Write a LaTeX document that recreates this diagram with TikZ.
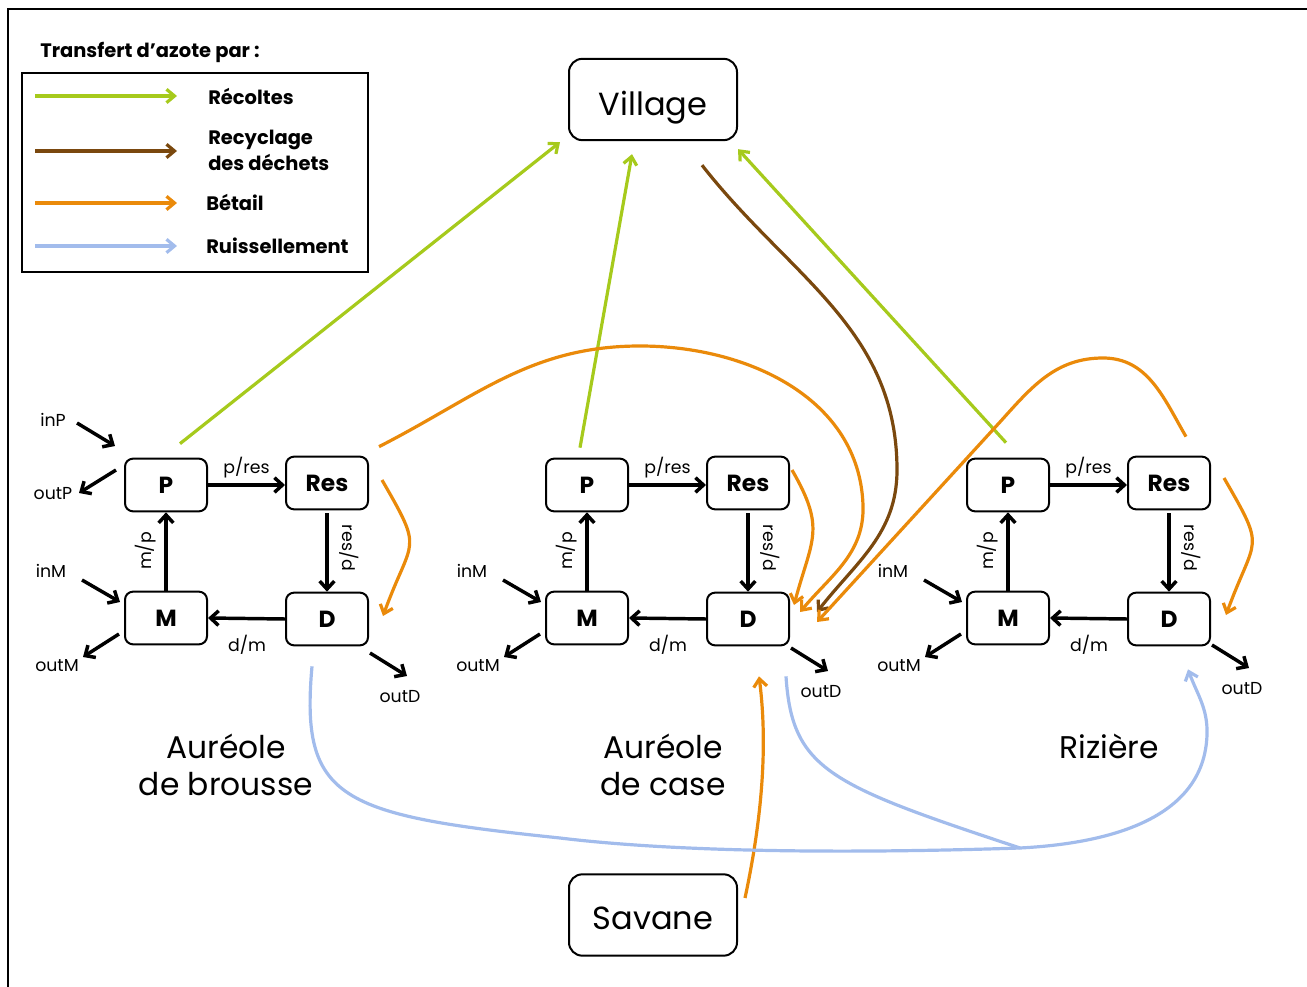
\documentclass[tikz,border=0pt]{standalone}
\usepackage{fontspec}
\setmainfont{Poppins}
\usetikzlibrary{arrows.meta}
\definecolor{cgreen}{RGB}{166,202,28}
\definecolor{cbrown}{RGB}{122,72,14}
\definecolor{corange}{RGB}{234,138,10}
\definecolor{cblue}{RGB}{162,188,236}
\begin{document}
\begin{tikzpicture}[x=0.75pt,y=-0.75pt,
  box/.style={draw, line width=1.5pt, rounded corners=6pt, minimum width=61.5pt, minimum height=39.5pt, inner sep=0pt, font=\fontsize{17.5}{20}\selectfont\bfseries},
  bigbox/.style={draw, line width=1.5pt, rounded corners=10pt, minimum width=126pt, minimum height=61pt, inner sep=0pt, text depth=0pt, font=\fontsize{24}{28}\selectfont},
  blk/.style={line width=2.6pt, -{Straight Barb[length=6pt,width=11pt]}},
  col/.style={line width=2.4pt, -{Straight Barb[length=6pt,width=10pt]}},
  lab/.style={font=\fontsize{13}{15}\selectfont, inner sep=1pt},
  leg/.style={font=\fontsize{14.6}{19}\selectfont\bfseries, anchor=west, inner sep=0pt, align=left},
  title/.style={font=\fontsize{23.5}{28}\selectfont, align=center, inner sep=0pt}]
\useasboundingbox (0,0) rectangle (1307,987);
% outer frame
\draw[line width=2.2pt] (8,1010) -- (8,9) -- (1330,9);
% legend
\node[leg] (legtitle) at (40,52) {Transfert d’azote par :};
\node[draw, line width=1.5pt, minimum width=259.5pt, minimum height=149pt, inner sep=0pt] (legbox) at (195,172.5) {};
\node[leg] (lr) at (208,96) {Récoltes};
\node[leg] (lc) at (208,150.5) {Recyclage\\des déchets};
\node[leg] (lb) at (206,202) {Bétail};
\node[leg] (lru) at (206,246) {Ruissellement};
\coordinate (g1) at (35,96); \coordinate (g2) at (177,96);
\coordinate (b1) at (35,151); \coordinate (b2) at (177,151);
\coordinate (o1) at (35,203); \coordinate (o2) at (177,203);
\coordinate (u1) at (35,246); \coordinate (u2) at (177,246);
\draw[col, cgreen] (g1) -- (g2);
\draw[col, cbrown] (b1) -- (b2);
\draw[col, corange] (o1) -- (o2);
\draw[col, cblue] (u1) -- (u2);
% village / savane
\node[bigbox, text height=24pt] (V) at (653,99.5) {Village};
\node[bigbox, text height=21.5pt] (S) at (653,915) {Savane};
% clusters
\foreach \n/\dx/\dy in {B/0/0,C/421/-5,R/842/-8}{
  \node[box] (P\n) at (166+\dx,485) {P};
  \node[box] (Res\n) at (327+\dx,483) {Res};
  \node[box] (M\n) at (166+\dx,618) {M};
  \node[box] (D\n) at (327+\dx,619) {D};
  \draw[blk] (P\n.east) -- node[lab, above=3pt] {p/res} (Res\n.west |- P\n.east);
  \draw[blk] ([yshift=-2pt]Res\n.south) -- (D\n.north);
  \node[lab, rotate=-90] (rd\n) at (349+\dx,548) {res/d};
  \draw[blk] (D\n.west) -- (M\n.east);
  \node[lab] (dm\n) at (247+\dx,645) {d/m};
  \draw[blk] (M\n.north) -- (P\n.south);
  \node[lab, rotate=90] (mp\n) at (146+\dx,551) {m/p};
  % inM / outM / outD
  \node[lab] (inM\n) at (51+\dx,571) {inM};
  \coordinate (inMa\n) at (82+\dx,580); \coordinate (inMb\n) at (120+\dx,602);
  \draw[blk] (inMa\n) -- (inMb\n);
  \coordinate (outMa\n) at (119+\dx,634); \coordinate (outMb\n) at (83+\dx,657);
  \draw[blk] (outMa\n) -- (outMb\n);
  \node[lab] (outM\n) at (57+\dx,666) {outM};
  \coordinate (outDa\n) at (370+\dx,653+\dy); \coordinate (outDb\n) at (407+\dx,676+\dy);
  \draw[blk] (outDa\n) -- (outDb\n);
  \node[lab] (outD\n) at (400+\dx,697+\dy) {outD};
}
% orange Res -> D
\draw[col, corange] ([shift={(13,-3)}]ResB.east) to[out=-60,in=70,looseness=1.6] ([shift={(14,-3)}]DB.east);
\draw[col, corange] ([shift={(2,-13)}]ResC.east) to[out=-60,in=75,looseness=1.3] ([shift={(4,-14)}]DC.east);
\draw[col, corange] ([shift={(13,-5)}]ResR.east) to[out=-60,in=70,looseness=1.6] ([shift={(15,-4)}]DR.east);
% inP / outP (brousse only)
\node[lab] (inP) at (53,420) {inP};
\coordinate (inPa) at (77,423); \coordinate (inPb) at (115,446);
\draw[blk] (inPa) -- (inPb);
\coordinate (outPa) at (116,470); \coordinate (outPb) at (79,493);
\draw[blk] (outPa) -- (outPb);
\node[lab] (outP) at (53,494) {outP};
% titles
\node[title] (tB) at (226,765) {Auréole\\de brousse};
\node[title] (tC) at (663,765) {Auréole\\de case};
\node[title] (tR) at (1109,746) {Rizière};
% green: recoltes
\draw[col, cgreen] ([shift={(-28,-14)}]PB.north east) -- ([shift={(-8,1)}]V.south west);
\draw[col, cgreen] ([shift={(-7,-10)}]PC.north) -- ([shift={(-21,13)}]V.south);
\draw[col, cgreen] ([shift={(-2,-15)}]PR.north) -- ([shift={(0,8)}]V.south east);
% brown
\draw[col, cbrown] ([shift={(49,24)}]V.south) to[out=-52,in=90] (897,470) to[out=-90,in=52] ([shift={(27,-7)}]DC.east);
% orange big arcs
\draw[col, corange] ([shift={(10,-9)}]ResB.north east) to[out=27,in=180] (640,346) to[out=0,in=92] (863,505) to[out=-88,in=50] ([shift={(10,-7)}]DC.east);
\draw[col, corange] ([shift={(17,-19)}]ResR.north) to[out=120,in=0] (1103,358) to[out=180,in=48] (1000,422) -- ([shift={(27,3)}]DC.east);
% savane -> D
\draw[col, corange] ([shift={(7,-17)}]S.east) .. controls (766,800) and (766,730) .. ([shift={(11,30)}]DC.south);
% blue ruissellement
\coordinate (J) at (1020,848);
\draw[line width=2.4pt, cblue] ([shift={(-15,20)}]DB.south) .. controls (300,800) and (340,815) .. (560,838) .. controls (700,855) and (900,852) .. (J);
\draw[line width=2.4pt, cblue] ([shift={(38,30)}]DC.south) .. controls (792,770) and (830,785) .. (J);
\draw[col, cblue] (J) to[out=3,in=-92] (1207,735) to[out=88,in=-70] ([shift={(19,23)}]DR.south);
\end{tikzpicture}
\end{document}
